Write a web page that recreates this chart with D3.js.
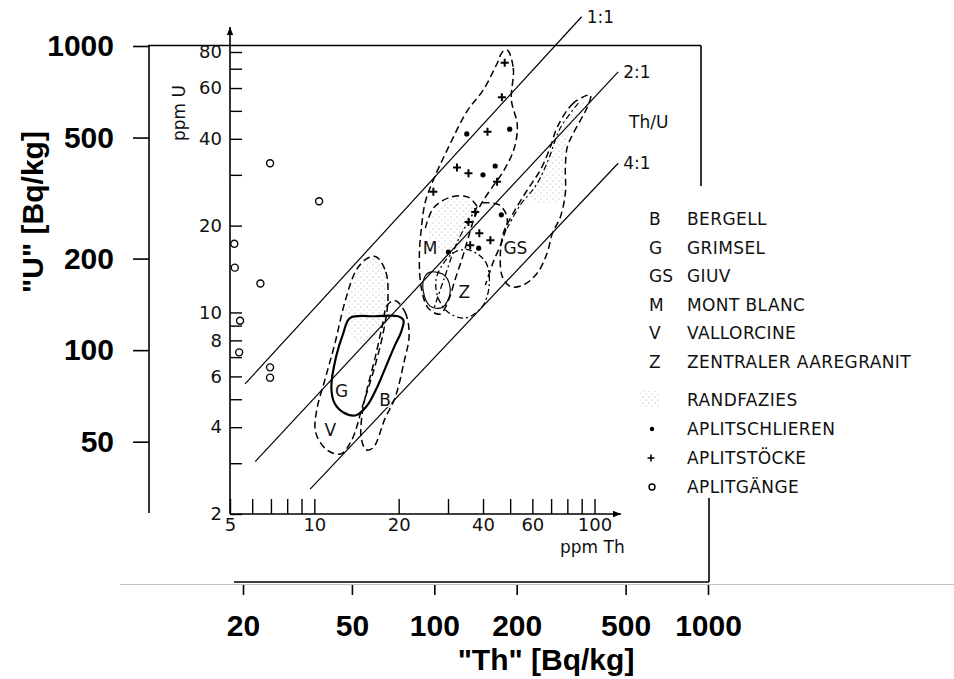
<!DOCTYPE html>
<html>
<head>
<meta charset="utf-8">
<script src="https://cdn.jsdelivr.net/npm/d3@7"></script>
<style>
  body { margin: 0; background: #fff; }
  svg { display: block; }
  .outer text { font-family: "Liberation Sans", Arial, sans-serif; font-weight: bold; font-size: 30px; fill: #000; }
  .inner text { font-family: "DejaVu Sans", sans-serif; font-size: 18px; fill: #111; }
  .lbl { font-family: "DejaVu Sans", sans-serif; font-size: 17px; fill: #111; }
</style>
</head>
<body>
<script>
// outer (Bq/kg) axes
const xTicksOut = [20, 50, 100, 200, 500, 1000];
const yTicksOut = [50, 100, 200, 500, 1000];

// inner (ppm) axes
const xTicksIn = [5, 6, 7, 8, 9, 10, 20, 30, 40, 50, 60, 70, 80, 90, 100];
const xLabelsIn = [5, 10, 20, 40, 60, 100];
const yTicksIn = [2, 3, 4, 5, 6, 7, 8, 9, 10, 20, 30, 40, 50, 60, 70, 80];
const yLabelsIn = [2, 4, 6, 8, 10, 20, 40, 60, 80];

// Th/U reference lines, [Th, U] in ppm as drawn
const ratioLabels = ["1:1", "2:1", "4:1"];
const ratioStart = [[5.66, 5.65], [6.15, 3.04], [9.66, 2.44]];
const ratioEnd = [[90.0, 106], [121.5, 68.3], [121.5, 32.9]];

// envelopes, [Th ppm, U ppm]
const envG = [[13.4, 9.56], [16.5, 9.7], [19.9, 9.7], [20.8, 9.4], [20.4, 8.55], [19.4, 7.7], [17.9, 6.4], [16.6, 5.4],
  [15.4, 4.74], [14.1, 4.4], [12.7, 4.5], [11.8, 4.85], [11.5, 5.5], [11.95, 7.0], [12.7, 8.5]];
const envV = [[16.6, 15.6], [18.0, 13.8], [18.3, 11.0], [17.7, 8.7], [16.5, 6.57], [14.9, 4.77], [13.6, 3.61], [12.4, 3.23],
  [11.0, 3.36], [10.1, 3.85], [10.2, 4.59], [10.9, 5.83], [11.8, 7.7], [12.9, 11.0], [14.1, 14.0], [15.3, 15.3]];
const envB = [[19.4, 11.0], [21.1, 10.0], [21.8, 8.35], [20.9, 6.73], [19.4, 5.05], [17.9, 4.3], [16.2, 3.39], [15.3, 3.34],
  [14.7, 3.67], [14.8, 4.41], [15.4, 5.38], [16.5, 7.0], [17.5, 9.04], [18.2, 10.6]];
const envM = [[48.8, 81.3], [51.3, 70.4], [50.5, 54.5], [53.0, 44.7], [51.7, 37.1], [47.6, 31.2], [42.5, 26.6], [39.4, 23.8],
  [37.2, 21.2], [35.4, 18.1], [33.7, 15.4], [31.8, 13.0], [30.1, 11.0], [28.1, 9.87], [25.5, 10.35], [24.1, 12.15],
  [23.7, 15.4], [24.1, 19.6], [24.9, 24.2], [26.6, 28.8], [29.8, 36.6], [35.1, 49.9], [40.1, 59.1], [45.0, 73.3], [46.9, 80.0]];
const arcM = [[24.9, 19.6], [26.6, 23.0], [30.6, 25.1], [35.4, 25.1], [38.5, 23.0]];
const envZ = [[35.4, 16.5], [40.8, 15.0], [42.1, 12.45], [39.8, 10.5], [34.6, 9.56], [30.1, 10.0], [27.7, 11.2], [27.2, 13.0],
  [29.1, 14.95], [31.8, 16.2]];
const loopZ = [[25.9, 13.8], [29.3, 13.4], [30.55, 11.77], [28.6, 10.4], [25.9, 10.52], [24.5, 11.8], [24.7, 13.2]];
const arcAplit = [[39.8, 24.0], [45.7, 23.6], [48.8, 21.2], [46.9, 17.8], [43.5, 14.95], [40.8, 12.45]];
const lineMZ = [[38.1, 23.2], [32.6, 17.8], [29.1, 13.16], [26.6, 10.2]];
const envGS = [[96.7, 56.7], [84.1, 53.2], [73.7, 44.0], [69.6, 37.5], [64.1, 31.2], [57.6, 26.6], [51.3, 22.1], [47.3, 18.85],
  [46.1, 15.6], [46.9, 13.3], [50.1, 12.3], [55.7, 12.45], [62.5, 13.7], [67.8, 16.1], [70.8, 18.85], [75.5, 21.4],
  [78.7, 25.95], [78.7, 31.9], [80.0, 37.5], [84.1, 41.9], [94.3, 51.6]];
const innerGS = [[87.6, 53.2], [75.5, 43.6], [68.4, 33.8], [62.0, 27.7], [54.35, 23.58], [48.8, 19.6]];

// Randfazies (stippled)
const stipV = [[16.6, 15.6], [18.2, 13.5], [18.3, 10.6], [17.45, 8.35], [15.8, 7.7], [14.0, 8.0], [12.9, 9.4], [13.4, 12.0], [14.6, 14.6]];
const stipGS = [[92.8, 54.6], [80.7, 41.2], [77.4, 31.2], [76.8, 24.6], [68.4, 23.6], [59.0, 24.55], [65.2, 30.7], [72.5, 39.6], [83.4, 51.1]];
const stipM = [[25.5, 18.55], [28.1, 23.6], [33.2, 24.9], [37.5, 22.66], [36.0, 18.55], [31.8, 16.5], [27.0, 16.5]];

// envelope code letters, [code, Th, U]
const envLabels = [["G", 12.5, 5.34], ["B", 17.9, 4.97], ["V", 11.4, 3.91], ["M", 25.9, 16.7], ["Z", 34.3, 11.8], ["GS", 52.2, 16.7]];

// samples
const aplitSchlieren = [[35.0, 41.6], [49.8, 43.2], [44.2, 32.2], [40.0, 30.0], [46.5, 21.8], [38.6, 16.7], [30.1, 16.2]];
const aplitStoecke = [[47.8, 73.4], [46.7, 55.7], [41.5, 42.3], [32.3, 31.8], [35.5, 30.4], [44.9, 28.4], [26.6, 26.2],
  [37.5, 22.3], [35.5, 20.6], [38.8, 18.8], [42.5, 17.8], [36.0, 17.1]];
const aplitGaenge = [[6.95, 32.9], [10.4, 24.3], [5.18, 17.3], [5.2, 14.3], [6.42, 12.6], [5.43, 9.36], [5.39, 7.27], [6.95, 6.45], [6.95, 5.94]];

// legend
const legendCodes = ["B", "G", "GS", "M", "V", "Z"];
const legendNames = ["BERGELL", "GRIMSEL", "GIUV", "MONT BLANC", "VALLORCINE", "ZENTRALER AAREGRANIT"];
const symbolNames = ["RANDFAZIES", "APLITSCHLIEREN", "APLITSTÖCKE", "APLITGÄNGE"];

const svg = d3.select("body").append("svg").attr("width", 954).attr("height", 679);

const defs = svg.append("defs");
const pat = defs.append("pattern").attr("id", "stip").attr("patternUnits", "userSpaceOnUse")
  .attr("width", 6).attr("height", 6);
pat.append("circle").attr("cx", 1).attr("cy", 1).attr("r", 0.6).attr("fill", "#999");
pat.append("circle").attr("cx", 4).attr("cy", 4).attr("r", 0.6).attr("fill", "#aaa");
defs.append("marker").attr("id", "arrow").attr("viewBox", "0 0 10 10").attr("refX", 10).attr("refY", 5)
  .attr("markerWidth", 8).attr("markerHeight", 8).attr("markerUnits", "userSpaceOnUse").attr("orient", "auto")
  .append("path").attr("d", "M0,1L10,5L0,9z").attr("fill", "#000");

// scales
const xOut = d3.scaleLog().domain([20, 1000]).range([243, 708]);
const yOut = d3.scaleLog().domain([50, 1000]).range([441.7, 46]);
const xIn = d3.scaleLog().domain([5, 100]).range([230, 594.5]);
const yIn = d3.scaleLog().domain([2, 80]).range([514, 52]);

// ---- outer frame ----
const frame = svg.append("g").attr("stroke", "#000").attr("stroke-width", 1.6);
frame.append("line").attr("x1", 149).attr("x2", 149).attr("y1", yOut(1000)).attr("y2", 513);
frame.append("line").attr("x1", 148).attr("x2", 701).attr("y1", yOut(1000) - 0.5).attr("y2", yOut(1000) - 0.5);
frame.append("line").attr("x1", 701).attr("x2", 701).attr("y1", yOut(1000) - 0.5).attr("y2", 186);
frame.append("line").attr("x1", 234).attr("x2", 709).attr("y1", 582).attr("y2", 582);
frame.append("line").attr("x1", 709).attr("x2", 709).attr("y1", 498).attr("y2", 582);
svg.append("line").attr("x1", 120).attr("x2", 954).attr("y1", 584.5).attr("y2", 584.5)
  .attr("stroke", "#c4c4c4").attr("stroke-width", 1);

svg.append("g").attr("class", "outer").attr("transform", "translate(149,0)")
  .call(d3.axisLeft(yOut).tickValues(yTicksOut).tickFormat(d3.format("d")).tickSize(16).tickPadding(19).tickSizeOuter(0))
  .call(g => g.select(".domain").remove())
  .call(g => g.selectAll(".tick line").attr("stroke-width", 1.6));

svg.append("g").attr("class", "outer").attr("transform", "translate(0,582)")
  .call(d3.axisBottom(xOut).tickValues(xTicksOut).tickFormat(d3.format("d")).tickSize(13).tickPadding(20).tickSizeOuter(0))
  .call(g => g.select(".domain").remove())
  .call(g => g.selectAll(".tick line").attr("y1", 3).attr("stroke-width", 1.6));

svg.append("text").attr("class", "outerTitle")
  .attr("transform", "translate(43,212) rotate(-90)").attr("text-anchor", "middle")
  .style("font-family", "'Liberation Sans', Arial, sans-serif").style("font-weight", "bold").style("font-size", "30px")
  .text('"U" [Bq/kg]');
svg.append("text")
  .attr("x", 546).attr("y", 670).attr("text-anchor", "middle")
  .style("font-family", "'Liberation Sans', Arial, sans-serif").style("font-weight", "bold").style("font-size", "30px")
  .text('"Th" [Bq/kg]');

// ---- inner axes ----
svg.append("g").attr("class", "inner").attr("transform", `translate(${xIn(5)},0)`)
  .call(d3.axisLeft(yIn).tickValues(yTicksIn).tickFormat(d => yLabelsIn.includes(d) ? d : "").tickSize(-12).tickPadding(8).tickSizeOuter(0))
  .call(g => g.select(".domain").remove())
  .call(g => g.selectAll(".tick line").attr("stroke-width", 1.4));

svg.append("g").attr("class", "inner").attr("transform", `translate(0,${yIn(2)})`)
  .call(d3.axisBottom(xIn).tickValues(xTicksIn).tickFormat(d => xLabelsIn.includes(d) ? d : "").tickSize(-15).tickPadding(4).tickSizeOuter(0))
  .call(g => g.select(".domain").remove())
  .call(g => g.selectAll(".tick line").attr("stroke-width", 1.4));

svg.append("line").attr("x1", xIn(5)).attr("y1", yIn(2)).attr("x2", xIn(5)).attr("y2", 27)
  .attr("stroke", "#000").attr("stroke-width", 1.6).attr("marker-end", "url(#arrow)");
svg.append("line").attr("x1", xIn(5)).attr("y1", yIn(2)).attr("x2", 621).attr("y2", yIn(2))
  .attr("stroke", "#000").attr("stroke-width", 1.6).attr("marker-end", "url(#arrow)");

svg.append("text").attr("class", "lbl").attr("transform", "translate(185,113) rotate(-90)")
  .attr("text-anchor", "middle").text("ppm U");
svg.append("text").attr("class", "lbl").attr("x", 560).attr("y", 553).text("ppm Th");

// ---- ratio lines ----
ratioLabels.forEach((lab, i) => {
  svg.append("line")
    .attr("x1", xIn(ratioStart[i][0])).attr("y1", yIn(ratioStart[i][1]))
    .attr("x2", xIn(ratioEnd[i][0])).attr("y2", yIn(ratioEnd[i][1]))
    .attr("stroke", "#000").attr("stroke-width", 1.2);
  svg.append("text").attr("class", "lbl")
    .attr("x", xIn(ratioEnd[i][0]) + 5).attr("y", yIn(ratioEnd[i][1]) + 6).text(lab);
});
svg.append("text").attr("class", "lbl").attr("x", 629).attr("y", 128).text("Th/U");

// ---- envelopes ----
const closedLine = d3.line().x(d => xIn(d[0])).y(d => yIn(d[1])).curve(d3.curveCatmullRomClosed.alpha(0.5));
const openLine = d3.line().x(d => xIn(d[0])).y(d => yIn(d[1])).curve(d3.curveCatmullRom.alpha(0.5));

[stipV, stipGS, stipM].forEach(p => {
  svg.append("path").attr("d", closedLine(p)).attr("fill", "url(#stip)").attr("stroke", "none");
});

const shapes = [
  { pts: envV, closed: true, dash: "7,4", w: 1.5 },
  { pts: envB, closed: true, dash: "7,4", w: 1.5 },
  { pts: envM, closed: true, dash: "7,4", w: 1.5 },
  { pts: arcM, closed: false, dash: "7,4", w: 1.5 },
  { pts: envZ, closed: true, dash: "6,3,2,3", w: 1.3 },
  { pts: loopZ, closed: true, dash: null, w: 1.1 },
  { pts: arcAplit, closed: false, dash: "7,4", w: 1.5 },
  { pts: lineMZ, closed: false, dash: "6,3,2,3", w: 1.3 },
  { pts: envGS, closed: true, dash: "7,4", w: 1.5 },
  { pts: innerGS, closed: false, dash: "6,3,2,3", w: 1.2 },
  { pts: envG, closed: true, dash: null, w: 2.2 }
];
shapes.forEach(s => {
  svg.append("path").attr("d", s.closed ? closedLine(s.pts) : openLine(s.pts))
    .attr("fill", "none").attr("stroke", "#000").attr("stroke-width", s.w)
    .attr("stroke-dasharray", s.dash);
});

svg.selectAll("text.env").data(envLabels).join("text").attr("class", "env lbl")
  .attr("x", d => xIn(d[1])).attr("y", d => yIn(d[2])).attr("text-anchor", "middle")
  .attr("dominant-baseline", "central").attr("paint-order", "stroke")
  .attr("stroke", "#fff").attr("stroke-width", 3).text(d => d[0]);

// ---- samples ----
svg.selectAll("circle.gang").data(aplitGaenge).join("circle").attr("class", "gang")
  .attr("cx", d => xIn(d[0])).attr("cy", d => yIn(d[1])).attr("r", 3.5)
  .attr("fill", "none").attr("stroke", "#000").attr("stroke-width", 1.4);
svg.selectAll("circle.schl").data(aplitSchlieren).join("circle").attr("class", "schl")
  .attr("cx", d => xIn(d[0])).attr("cy", d => yIn(d[1])).attr("r", 2.6).attr("fill", "#000");
svg.selectAll("path.stock").data(aplitStoecke).join("path").attr("class", "stock")
  .attr("transform", d => `translate(${xIn(d[0])},${yIn(d[1])})`)
  .attr("d", "M-4,0H4M0,-4V4").attr("stroke", "#000").attr("stroke-width", 2);

// ---- legend ----
const legend = svg.append("g").attr("class", "legend");
const rowY = i => 225 + i * 28.6;
legendCodes.forEach((c, i) => {
  legend.append("text").attr("class", "lbl").attr("x", 649).attr("y", rowY(i)).text(c);
  legend.append("text").attr("class", "lbl").attr("x", 687).attr("y", rowY(i))
    .style("letter-spacing", "0.4px").text(legendNames[i]);
});
const symY = j => 406 + j * 29;
symbolNames.forEach((n, j) => {
  legend.append("text").attr("class", "lbl").attr("x", 687).attr("y", symY(j))
    .style("letter-spacing", "0.4px").text(n);
});
legend.append("rect").attr("x", 640).attr("y", symY(0) - 15).attr("width", 20).attr("height", 16).attr("fill", "url(#stip)");
legend.append("circle").attr("cx", 652).attr("cy", symY(1) - 6).attr("r", 2.2).attr("fill", "#000");
legend.append("path").attr("transform", `translate(651,${symY(2) - 6})`).attr("d", "M-3.5,0H3.5M0,-3.5V3.5")
  .attr("stroke", "#000").attr("stroke-width", 1.6);
legend.append("circle").attr("cx", 652).attr("cy", symY(3) - 6).attr("r", 3).attr("fill", "none")
  .attr("stroke", "#000").attr("stroke-width", 1.4);
</script>
</body>
</html>
